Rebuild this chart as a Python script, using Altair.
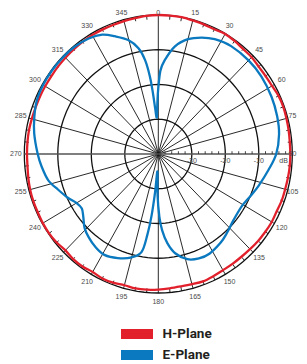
import altair as alt
import pandas as pd

# ---------------- data ----------------
SERIES = ["H-Plane", "E-Plane"]
COLORS = ["#E2202C", "#0A79BF"]

h_deg = [0, 5, 10, 15, 20, 25, 30, 35, 40, 45, 50, 55, 60, 65, 70, 75, 80, 85, 90, 95,
         100, 105, 110, 115, 120, 125, 130, 135, 140, 145, 150, 155, 160, 165, 170, 175,
         180, 185, 190, 195, 200, 205, 210, 215, 220, 225, 230, 235, 240, 245, 250, 255,
         260, 265, 270, 275, 280, 285, 290, 295, 300, 305, 310, 315, 320, 325, 330, 335,
         340, 345, 350, 355]
h_db = [0, 0, 0, -0.2, -0.3, -0.4, -0.1, -0.3, -0.6, -0.6, -0.9, -0.9, -0.8, -0.4, -0.3,
        -0.4, -0.5, -0.6, -0.6, -0.6, -0.7, -0.8, -0.8, -1.0, -0.9, -1.0, -1.1, -1.3, -1.4,
        -1.4, -1.4, -1.2, -1.0, -1.2, -1.3, -1.2, -1.0, -0.8, -0.7, -0.9, -0.6, -0.5, -0.8,
        -0.5, -0.5, -0.8, -0.4, -0.2, -0.2, -0.3, -0.3, -0.4, -0.6, -0.8, -0.8, -0.8, -0.8,
        -0.9, -1.0, -1.0, -1.0, -1.0, -0.9, -0.8, -0.7, -0.6, -0.5, -0.5, -0.5, -0.4, -0.3,
        -0.1]

e_deg = [0, 1.5, 4, 9, 15, 21, 27, 35, 45, 54, 64, 73, 81, 90, 98, 107, 114, 121, 130, 138,
         144, 152, 158, 164, 170, 174, 177, 179, 181, 183, 185, 186.5, 188, 190, 195, 202,
         209, 215, 221, 226, 231, 235.5, 240, 245, 251, 257, 264, 270, 279, 286, 293, 300,
         307, 314, 321, 328, 334, 339, 344.7, 349, 351.7, 353.6, 354.8, 356, 357.5, 359]
e_db = [-21, -16, -13, -8.7, -5.8, -4.1, -2.9, -2.1, -1.9, -2.0, -2.4, -2.9, -3.5, -4.8,
        -6.8, -8.7, -10, -10.9, -10.6, -9.4, -8.4, -7.5, -7.6, -8.5, -11, -14.2, -18, -22,
        -28, -35, -29, -22, -16.5, -11.4, -9.2, -7.7, -6.8, -7.3, -8.3, -9.4, -11.2, -12.3,
        -11.8, -10.2, -8.4, -6.3, -5.0, -4.0, -2.5, -1.5, -0.6, -0.3, -0.2, -0.2, -0.3, -0.8,
        -1.8, -3.7, -6.0, -9.0, -12.7, -17.6, -22.5, -27, -29.5, -25]

ring_db = [-30, -20, -10, 0]
spoke_deg = [0, 15, 30, 45, 60, 75, 90, 105, 120, 135, 150, 165,
             180, 195, 210, 225, 240, 255, 270, 285, 300, 315, 330, 345]
spoke_labels = [str(a) for a in spoke_deg]
minor_deg = [a for a in range(0, 360, 5) if a % 15 != 0]
axis_tick_db = [d for d in range(-38, 0, 2) if d % 10 != 0]
axis_labels = ["-30", "-20", "-10", "dB"]
axis_label_db = [-30, -20, -10, -2.6]

DB_MIN = -40.0
DB_SPAN = 40.0

# ---------------- layout ----------------
W, H = 291, 356
CX, CY = 150.3, 146.0      # centre of the diagram inside the plot area (px)
PX, PY = 134.0, 139.0      # px per unit radius (x / y)
xs = alt.Scale(domain=[-CX / PX, (W - CX) / PX], nice=False, zero=False)
ys = alt.Scale(domain=[-(H - CY) / PY, CY / PY], nice=False, zero=False)
LABEL_R = 1.063
LABEL_XMAX = (W - CX - 6.5) / PX   # keep angle labels inside the drawing
LABEL_YMAX = (CY - 4.5) / PY

# legend box layout (px inside the plot area)
LEG_LEFT, LEG_W, LEG_H = 113.0, 32.0, 10.0
LEG_ROW0, LEG_DY, LEG_GAP = 326.0, 21.0, 9.5


def X(f):
    return alt.X(f, type="quantitative", scale=xs, axis=None)


def Y(f):
    return alt.Y(f, type="quantitative", scale=ys, axis=None)


R_EXPR = f"(datum.db - ({DB_MIN})) / {DB_SPAN}"

# ---------------- tables ----------------
pattern = pd.concat([
    pd.DataFrame({"series": "H-Plane", "i": range(len(h_deg)), "deg": h_deg, "db": h_db}),
    pd.DataFrame({"series": "E-Plane", "i": range(len(e_deg)), "deg": e_deg, "db": e_db}),
], ignore_index=True)

ring_steps = list(range(0, 360, 3))
rings = pd.DataFrame([{"ring": r, "i": k, "deg": a, "db": r}
                      for r in ring_db for k, a in enumerate(ring_steps)])
spokes = pd.DataFrame({"deg": spoke_deg, "main": [a % 180 == 90 for a in spoke_deg]})
minors = pd.DataFrame({"deg": minor_deg})
aticks = pd.DataFrame({"db": axis_tick_db})
alabels = pd.DataFrame({"label": axis_labels, "db": axis_label_db})
slabels = pd.DataFrame({"deg": spoke_deg, "label": spoke_labels})
legend_rows = pd.DataFrame({"series": SERIES, "row": list(range(len(SERIES)))})

cscale = alt.Scale(domain=SERIES, range=COLORS)

ring_layer = alt.Chart(rings).transform_calculate(
    r=R_EXPR
).transform_calculate(
    x="datum.r * sin(datum.deg * PI / 180)", y="datum.r * cos(datum.deg * PI / 180)"
).mark_line(interpolate="linear-closed", color="#111111", strokeWidth=1.3).encode(
    x=X("x"), y=Y("y"), detail="ring:N", order="i:Q"
)

spoke_layer = alt.Chart(spokes).transform_filter("!datum.main").transform_calculate(
    x0="0", y0="0",
    x1="sin(datum.deg * PI / 180)", y1="cos(datum.deg * PI / 180)"
).mark_rule(color="#111111", strokeWidth=0.9).encode(
    x=X("x0"), y=Y("y0"), x2="x1:Q", y2="y1:Q"
)

hline_layer = alt.Chart(spokes).transform_filter("datum.main").transform_calculate(
    x0="0", y0="0",
    x1="sin(datum.deg * PI / 180)", y1="cos(datum.deg * PI / 180)"
).mark_rule(color="#555555", strokeWidth=1.6).encode(
    x=X("x0"), y=Y("y0"), x2="x1:Q", y2="y1:Q"
)

minor_layer = alt.Chart(minors).transform_calculate(
    x0="0.97 * sin(datum.deg * PI / 180)", y0="0.97 * cos(datum.deg * PI / 180)",
    x1="sin(datum.deg * PI / 180)", y1="cos(datum.deg * PI / 180)"
).mark_rule(color="#111111", strokeWidth=0.9).encode(
    x=X("x0"), y=Y("y0"), x2="x1:Q", y2="y1:Q"
)

atick_layer = alt.Chart(aticks).transform_calculate(
    r=R_EXPR
).transform_calculate(
    y0="0", y1="0.02"
).mark_rule(color="#333333", strokeWidth=0.9).encode(
    x=X("r"), y=Y("y0"), y2="y1:Q"
)

alabel_layer = alt.Chart(alabels).transform_calculate(
    r=R_EXPR, y0="0"
).mark_text(font="Liberation Sans", fontSize=7, color="#4a4a4a",
            baseline="middle", align="center", dy=7).encode(
    x=X("r"), y=Y("y0"), text="label:N"
)

slabel_layer = alt.Chart(slabels).transform_calculate(
    x=f"min({LABEL_R} * sin(datum.deg * PI / 180), {LABEL_XMAX})",
    y=f"min({LABEL_R} * cos(datum.deg * PI / 180), {LABEL_YMAX})",
).mark_text(font="Liberation Sans", fontSize=7, color="#4a4a4a",
            baseline="middle", align="center").encode(
    x=X("x"), y=Y("y"), text="label:N"
)


def pattern_layer(name, width):
    return alt.Chart(pattern).transform_filter(
        alt.datum.series == name
    ).transform_calculate(
        r=R_EXPR
    ).transform_calculate(
        x="datum.r * sin(datum.deg * PI / 180)", y="datum.r * cos(datum.deg * PI / 180)"
    ).mark_line(interpolate="cardinal-closed", strokeWidth=width).encode(
        x=X("x"), y=Y("y"), order="i:Q",
        color=alt.Color("series:N", scale=cscale, legend=None)
    )


# legend (coloured bars + bold labels), placed through the same scales
leg_base = alt.Chart(legend_rows).transform_calculate(
    cy=f"{LEG_ROW0} + datum.row * {LEG_DY}"
).transform_calculate(
    lx0=f"({LEG_LEFT} - {CX}) / {PX}",
    lx1=f"({LEG_LEFT} + {LEG_W} - {CX}) / {PX}",
    tx=f"({LEG_LEFT} + {LEG_W} + {LEG_GAP} - {CX}) / {PX}",
    ly0=f"({CY} - datum.cy + {LEG_H / 2}) / {PY}",
    ly1=f"({CY} - datum.cy - {LEG_H / 2}) / {PY}",
    ty=f"({CY} - datum.cy) / {PY}",
)
leg_rect = leg_base.mark_rect().encode(
    x=X("lx0"), x2="lx1:Q", y=Y("ly0"), y2="ly1:Q",
    color=alt.Color("series:N", scale=cscale, legend=None),
)
leg_text = leg_base.mark_text(
    font="Roboto", fontSize=13.5, fontWeight="bold", color="#231f20",
    align="left", baseline="middle"
).encode(x=X("tx"), y=Y("ty"), text="series:N")

chart = alt.layer(
    ring_layer, spoke_layer, hline_layer, minor_layer, atick_layer,
    alabel_layer,
    pattern_layer("H-Plane", 2.3), pattern_layer("E-Plane", 2.3),
    slabel_layer,
    leg_rect, leg_text,
).properties(
    width=W, height=H, padding=0, autosize=alt.AutoSizeParams(type="none")
).configure_view(stroke=None)

chart.save("out.html", embed_options={"renderer": "svg", "actions": False})
